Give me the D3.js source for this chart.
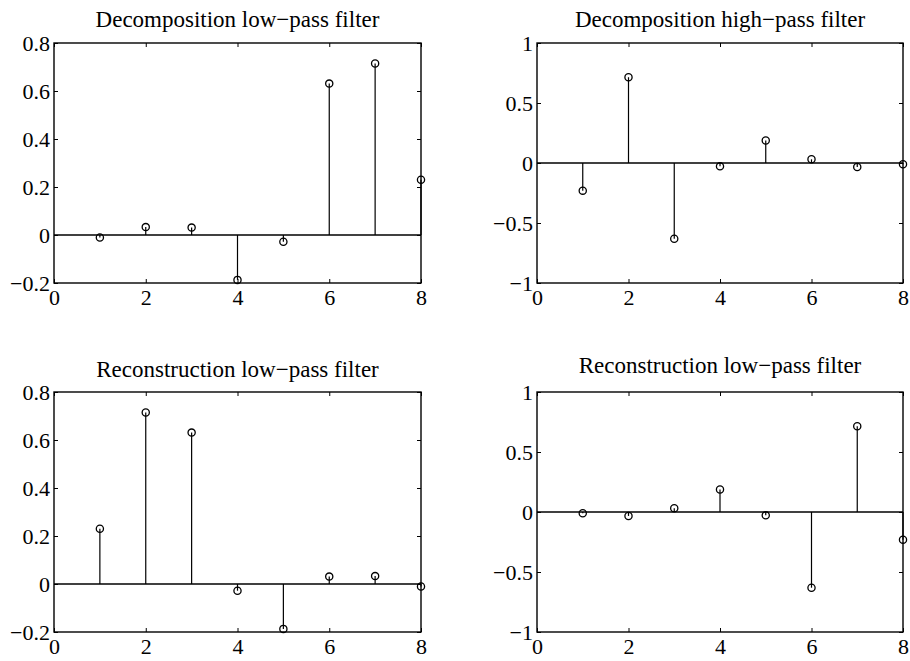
<!DOCTYPE html>
<html>
<head>
<meta charset="utf-8">
<script src="https://cdn.jsdelivr.net/npm/d3@7"></script>
<style>
  html, body { margin: 0; padding: 0; background: #fff; }
  svg { display: block; }
  text { font-family: "Liberation Serif", "Times New Roman", serif; fill: #000; }
</style>
</head>
<body>
<svg id="chart" width="910" height="661"></svg>
<script>
// Daubechies-4 filter taps (index 1..8)
const taps = [1, 2, 3, 4, 5, 6, 7, 8];
const loDecomp = [-0.0106, 0.0329, 0.0308, -0.1870, -0.0280, 0.6309, 0.7148, 0.2304];
const hiDecomp = [-0.2304, 0.7148, -0.6309, -0.0280, 0.1870, 0.0308, -0.0329, -0.0106];
const loRecon  = [0.2304, 0.7148, 0.6309, -0.0280, -0.1870, 0.0308, 0.0329, -0.0106];
const hiRecon  = [-0.0106, -0.0329, 0.0308, 0.1870, -0.0280, -0.6309, 0.7148, -0.2304];

const titles = [
  "Decomposition low\u2212pass filter",
  "Decomposition high\u2212pass filter",
  "Reconstruction low\u2212pass filter",
  "Reconstruction low\u2212pass filter"
];
const xTicks = [0, 2, 4, 6, 8];
const yTicksLow = [-0.2, 0, 0.2, 0.4, 0.6, 0.8];
const yTicksHigh = [-1, -0.5, 0, 0.5, 1];

const panels = [
  { title: titles[0], values: loDecomp, yDomain: [-0.2, 0.8], yTicks: yTicksLow,  box: [54, 43, 421, 283],  titleGap: 16 },
  { title: titles[1], values: hiDecomp, yDomain: [-1, 1],     yTicks: yTicksHigh, box: [537, 43, 903, 283], titleGap: 16 },
  { title: titles[2], values: loRecon,  yDomain: [-0.2, 0.8], yTicks: yTicksLow,  box: [54, 392, 421, 632], titleGap: 15 },
  { title: titles[3], values: hiRecon,  yDomain: [-1, 1],     yTicks: yTicksHigh, box: [537, 392, 903, 632], titleGap: 19 }
];

const fmt = d => String(d).replace("-", "\u2212");
const svg = d3.select("#chart");

panels.forEach(p => {
  const [x0, y0, x1, y1] = p.box;
  const x = d3.scaleLinear().domain([0, 8]).range([x0, x1]);
  const y = d3.scaleLinear().domain(p.yDomain).range([y1, y0]);
  const g = svg.append("g");

  // inward ticks on all four sides
  const styleAxis = sel => {
    sel.select(".domain").remove();
    sel.selectAll(".tick line").attr("stroke", "#000").attr("stroke-width", 1);
  };
  g.append("g").attr("transform", `translate(0,${y1})`)
    .call(d3.axisBottom(x).tickValues(xTicks).tickFormat(fmt).tickSize(-4).tickPadding(6))
    .call(styleAxis)
    .selectAll("text").attr("font-size", 22).attr("font-family", "Liberation Serif");
  g.append("g").attr("transform", `translate(0,${y0})`)
    .call(d3.axisTop(x).tickValues(xTicks).tickFormat("").tickSize(-4))
    .call(styleAxis);
  g.append("g").attr("transform", `translate(${x0},0)`)
    .call(d3.axisLeft(y).tickValues(p.yTicks).tickFormat(fmt).tickSize(-4).tickPadding(4))
    .call(styleAxis)
    .selectAll("text").attr("font-size", 22).attr("font-family", "Liberation Serif").attr("dy", "0.36em");
  g.append("g").attr("transform", `translate(${x1},0)`)
    .call(d3.axisRight(y).tickValues(p.yTicks).tickFormat("").tickSize(-4))
    .call(styleAxis);

  // plot frame
  g.append("rect")
    .attr("x", x0).attr("y", y0)
    .attr("width", x1 - x0).attr("height", y1 - y0)
    .attr("fill", "none").attr("stroke", "#000").attr("stroke-width", 1.4);

  // zero baseline
  g.append("line")
    .attr("x1", x(0)).attr("x2", x(8))
    .attr("y1", y(0)).attr("y2", y(0))
    .attr("stroke", "#000").attr("stroke-width", 1.3);

  const pts = taps.map((t, i) => ({ t, v: p.values[i] }));

  // stems
  g.selectAll(".stem").data(pts).enter().append("line")
    .attr("x1", d => x(d.t)).attr("x2", d => x(d.t))
    .attr("y1", y(0)).attr("y2", d => y(d.v))
    .attr("stroke", "#000").attr("stroke-width", 1.2);

  // open circle markers
  g.selectAll(".mark").data(pts).enter().append("circle")
    .attr("cx", d => x(d.t)).attr("cy", d => y(d.v)).attr("r", 3.6)
    .attr("fill", "none").attr("stroke", "#000").attr("stroke-width", 1.3);

  // title
  g.append("text")
    .attr("x", (x0 + x1) / 2).attr("y", y0 - p.titleGap)
    .attr("text-anchor", "middle").attr("font-size", 23)
    .text(p.title);
});
</script>
</body>
</html>
